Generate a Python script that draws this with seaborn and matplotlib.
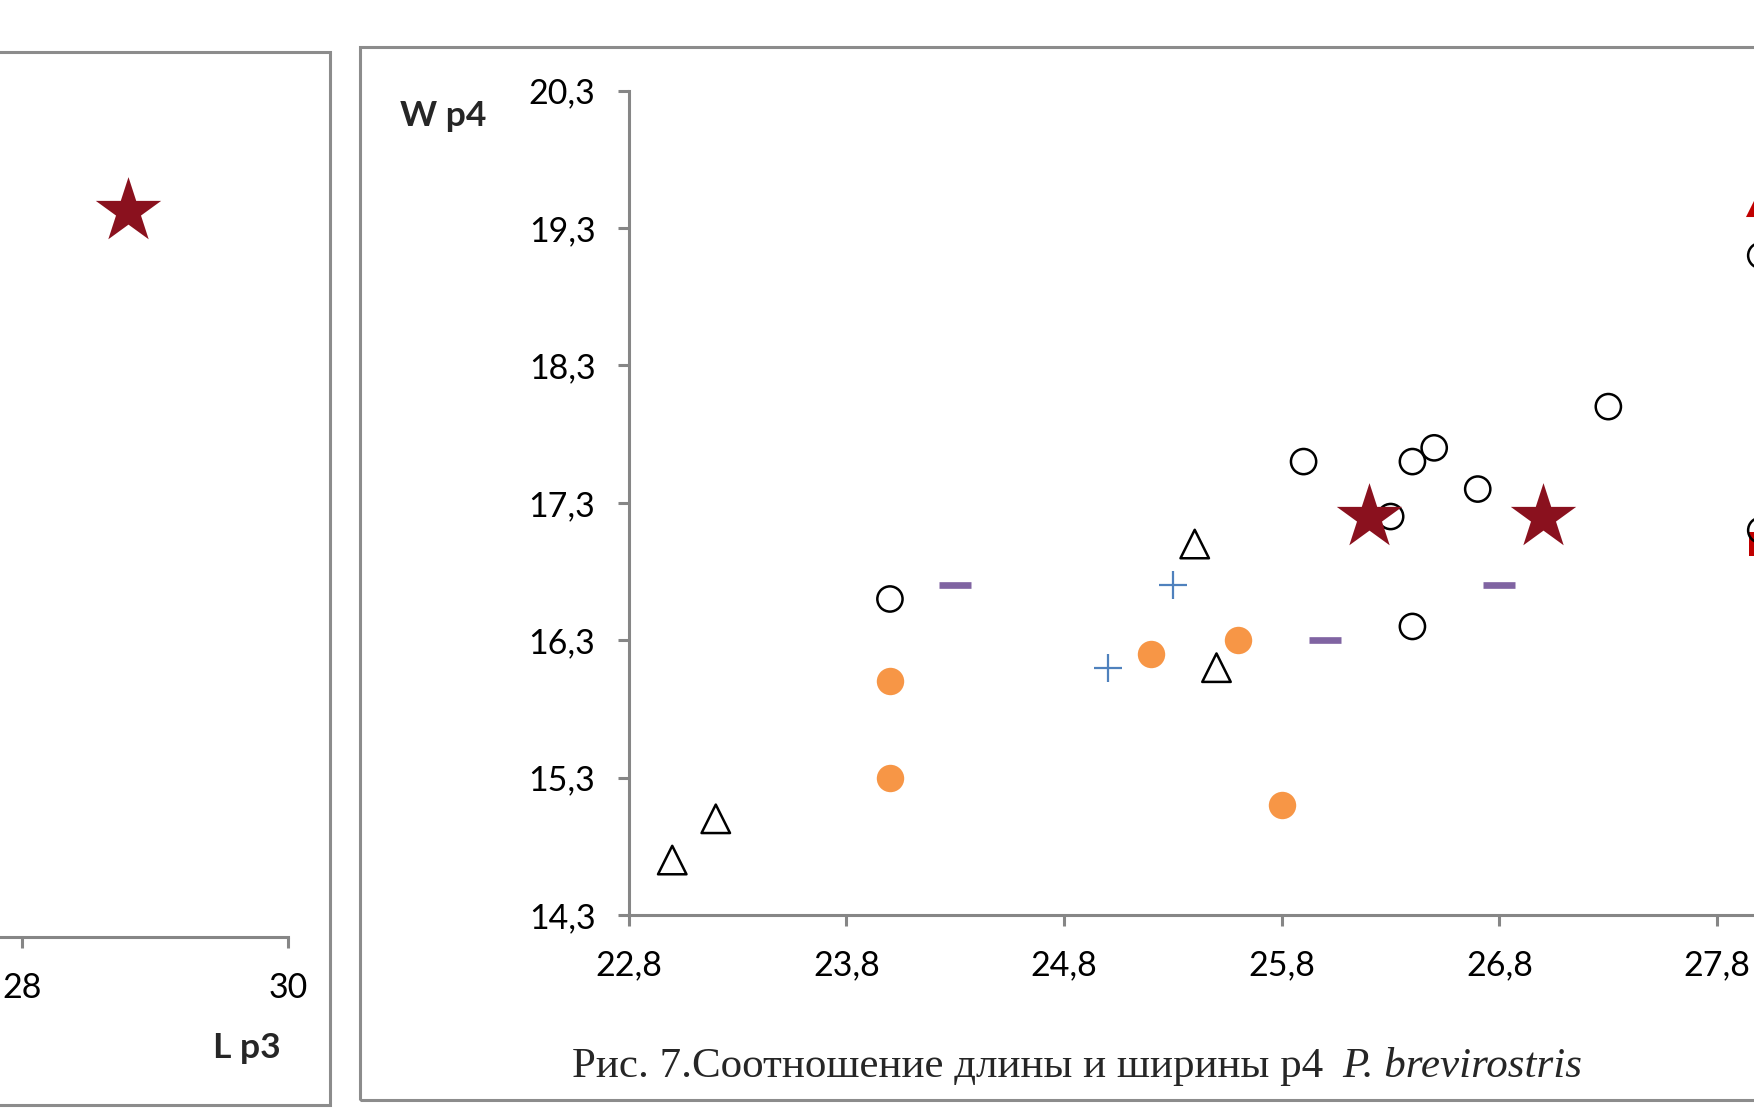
import numpy as np
import pandas as pd
import matplotlib
matplotlib.use('Agg')
import matplotlib.pyplot as plt
from matplotlib.patches import Rectangle
import seaborn as sns

sns.set_theme(style='white')
plt.rcParams['font.family'] = ['Lato', 'DejaVu Sans']

# данные: длина (L) и ширина (W) p4
circ_x = [24.0, 25.9, 26.4, 26.5, 26.3, 26.7, 27.3, 26.4, 28.0, 28.0]
circ_y = [16.6, 17.6, 17.6, 17.7, 17.2, 17.4, 18.0, 16.4, 19.1, 17.1]
tri_x = [23.0, 23.2, 25.4, 25.5]
tri_y = [14.7, 15.0, 17.0, 16.1]
orange_x = [24.0, 24.0, 25.2, 25.6, 25.8]
orange_y = [16.0, 15.3, 16.2, 16.3, 15.1]
plus_x = [25.0, 25.3]
plus_y = [16.1, 16.7]
dash_x = [24.3, 26.0, 26.8]
dash_y = [16.7, 16.3, 16.7]
star_x = [26.2, 27.0]
star_y = [17.2, 17.2]
redtri_x = [28.0]
redtri_y = [19.5]
redsq_x = [28.0]
redsq_y = [17.0]

# левая панель (L p3)
left_star_x = [28.8]
left_star_y = [19.4]

x_ticks = [22.8, 23.8, 24.8, 25.8, 26.8, 27.8]
y_ticks = [14.3, 15.3, 16.3, 17.3, 18.3, 19.3, 20.3]
left_x_ticks = [28, 30]

W, H = 1754, 1112
fig = plt.figure(figsize=(W / 100, H / 100), dpi=100)
gray = '#868686'

# рамки
fig.add_artist(Rectangle((360 / W, 12 / H), 1.2, (1100 - 47) / H, transform=fig.transFigure,
                         fill=False, edgecolor='#8c8c8c', lw=2.2))
fig.add_artist(Rectangle((-0.5, 7 / H), 0.5 + 330 / W, (1105 - 52) / H, transform=fig.transFigure,
                         fill=False, edgecolor='#8c8c8c', lw=2.2))

# правая панель
ax = fig.add_axes([628.7 / W, (H - 915) / H, 7 * 217.7 / W, (915 - 90.6) / H])
sns.scatterplot(x=redsq_x, y=redsq_y, ax=ax, marker='s', s=320, color='#C00000', linewidth=0)
sns.scatterplot(x=redtri_x, y=redtri_y, ax=ax, marker='^', s=500, color='#C00000', linewidth=0)
sns.scatterplot(x=circ_x, y=circ_y, ax=ax, marker='o', s=330, facecolor='none',
                edgecolor='black', linewidth=1.8)
sns.scatterplot(x=tri_x, y=tri_y, ax=ax, marker='^', s=420, facecolor='none',
                edgecolor='black', linewidth=1.8)
sns.scatterplot(x=orange_x, y=orange_y, ax=ax, marker='o', s=390, color='#F79646', linewidth=0)
sns.scatterplot(x=plus_x, y=plus_y, ax=ax, marker='+', s=380, color='#4F81BD', linewidth=1.6)
sns.scatterplot(x=dash_x, y=dash_y, ax=ax, marker='_', s=520, color='#8064A2', linewidth=4.8)
sns.scatterplot(x=star_x, y=star_y, ax=ax, marker='*', s=2450, color='#8A111E', linewidth=0)

ax.set_xlim(22.8, 29.8)
ax.set_ylim(14.3, 20.3)
ax.set_xticks(x_ticks)
ax.set_xticklabels([f'{v:.1f}'.replace('.', ',') for v in x_ticks])
ax.set_yticks(y_ticks)
ax.set_yticklabels([f'{v:.1f}'.replace('.', ',') for v in y_ticks])
ax.set_xlabel('')
ax.set_ylabel('')
for s in ['top', 'right']:
    ax.spines[s].set_visible(False)
for s in ['left', 'bottom']:
    ax.spines[s].set_color(gray)
    ax.spines[s].set_linewidth(2.2)
ax.tick_params(axis='both', direction='out', length=8, width=2.2, color=gray,
               labelsize=24.5, labelcolor='black', bottom=True, left=True)
ax.tick_params(axis='y', pad=16)
ax.tick_params(axis='x', pad=17)
ax.set_facecolor('none')

fig.text(443 / W, 1 - 116 / H, 'W p4', fontsize=25.5, fontweight='bold', ha='center', va='center')

# левая панель
lax = fig.add_axes([(288 - 6 * 133) / W, (H - 937) / H, 6 * 133 / W, (937 - 95) / H])
sns.scatterplot(x=left_star_x, y=left_star_y, ax=lax, marker='*', s=2450, color='#8A111E', linewidth=0)
lax.set_xlim(24, 30)
lax.set_ylim(12.5, 20.5)
lax.set_xticks(left_x_ticks)
lax.set_yticks([])
lax.set_xlabel('')
lax.set_ylabel('')
for s in ['top', 'right', 'left']:
    lax.spines[s].set_visible(False)
lax.spines['bottom'].set_color(gray)
lax.spines['bottom'].set_linewidth(2.2)
lax.tick_params(axis='x', direction='out', length=8, width=2.2, color=gray,
                labelsize=24.5, labelcolor='black', pad=17, bottom=True)
lax.set_facecolor('none')

fig.text(247 / W, 1 - 1048 / H, 'L p3', fontsize=25.5, fontweight='bold', ha='center', va='center')

# подпись
fig.text(1323 / W, 1 - 1077 / H, 'Рис. 7.Соотношение длины и ширины р4', fontsize=31,
         family='Liberation Serif', ha='right', va='baseline')
fig.text(1342 / W, 1 - 1077 / H, 'P. brevirostris', fontsize=31, style='italic',
         family='Liberation Serif', ha='left', va='baseline')

fig.savefig('out.png', dpi=100)
